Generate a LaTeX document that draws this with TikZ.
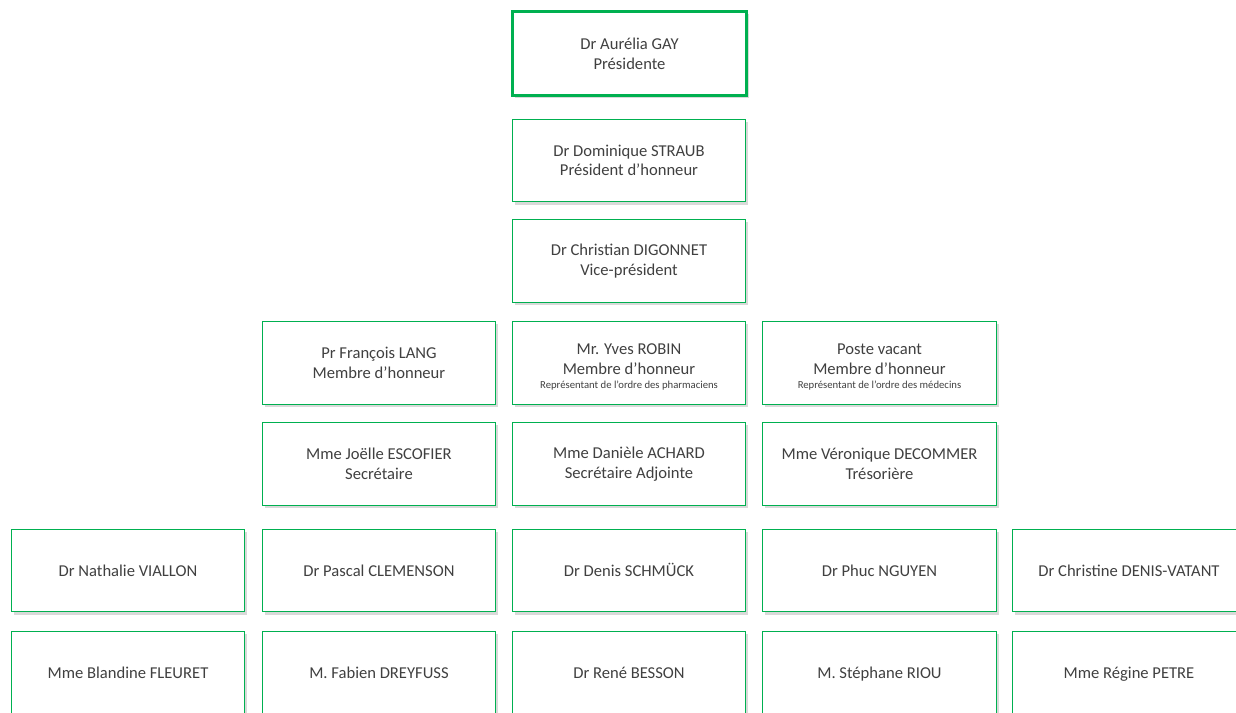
\documentclass[tikz,border=0pt]{standalone}
\usepackage{fontspec}
\setmainfont{Carlito}
\usetikzlibrary{shadows}
\definecolor{vert}{RGB}{0,176,80}
\definecolor{texte}{RGB}{64,64,64}
\begin{document}
\begin{tikzpicture}[x=0.025cm,y=-0.025cm,font=\fontsize{11.8}{14}\selectfont,
	poste/.style={draw=vert,line width=0.8pt,fill=white,text=texte,align=center,
		minimum width=5.83cm,minimum height=2.07cm,inner sep=0pt,
		drop shadow={shadow xshift=0.06cm,shadow yshift=-0.07cm,opacity=0.3}},
	presidente/.style={poste,line width=2.4pt,minimum width=5.84cm,minimum height=2.09cm},
	membre/.style={poste,text height=0.98em,text depth=0.15em}]
	\useasboundingbox (0,0) rectangle (1236,712);
	\clip (0,0) rectangle (1236,712);
	% bureau
	\node[presidente] (gay) at (629.5,53.5) {Dr Aurélia GAY\\Présidente};
	\node[poste] (straub) at (629,160.5) {Dr Dominique STRAUB\\Président d’honneur};
	\node[poste] (digonnet) at (629,261) {Dr Christian DIGONNET\\Vice-président};
	\node[poste] (lang) at (379,363) {Pr François LANG\\Membre d’honneur};
	\node[poste] (robin) at (629,363) {\rule{0pt}{13pt}Mr. Yves ROBIN\\Membre d’honneur\\[-4pt]
		{\fontsize{7.6}{9}\selectfont Représentant de l'ordre des pharmaciens}};
	\node[poste] (vacant) at (879.5,363) {\rule{0pt}{13pt}Poste vacant\\Membre d’honneur\\[-4pt]
		{\fontsize{7.6}{9}\selectfont Représentant de l'ordre des médecins}};
	\node[poste] (escofier) at (379,464) {Mme Joëlle ESCOFIER\\Secrétaire};
	\node[poste] (achard) at (629,464) {Mme Danièle ACHARD\\Secrétaire Adjointe};
	\node[poste] (decommer) at (879.5,464) {Mme Véronique DECOMMER\\Trésorière};
	% membres
	\foreach \n/\x/\t in {viallon/128/Dr Nathalie VIALLON,clemenson/379/Dr Pascal CLEMENSON,
		schmuck/629/Dr Denis SCHMÜCK,nguyen/879.5/Dr Phuc NGUYEN,
		denis/1129/Dr Christine DENIS-VATANT}
		\node[membre] (\n) at (\x,570.5) {\t};
	\foreach \n/\x/\t in {fleuret/128/Mme Blandine FLEURET,dreyfuss/379/M. Fabien DREYFUSS,
		besson/629/Dr René BESSON,riou/879.5/M. Stéphane RIOU,
		petre/1129/Mme Régine PETRE}
		\node[membre] (\n) at (\x,672.5) {\t};
\end{tikzpicture}
\end{document}
